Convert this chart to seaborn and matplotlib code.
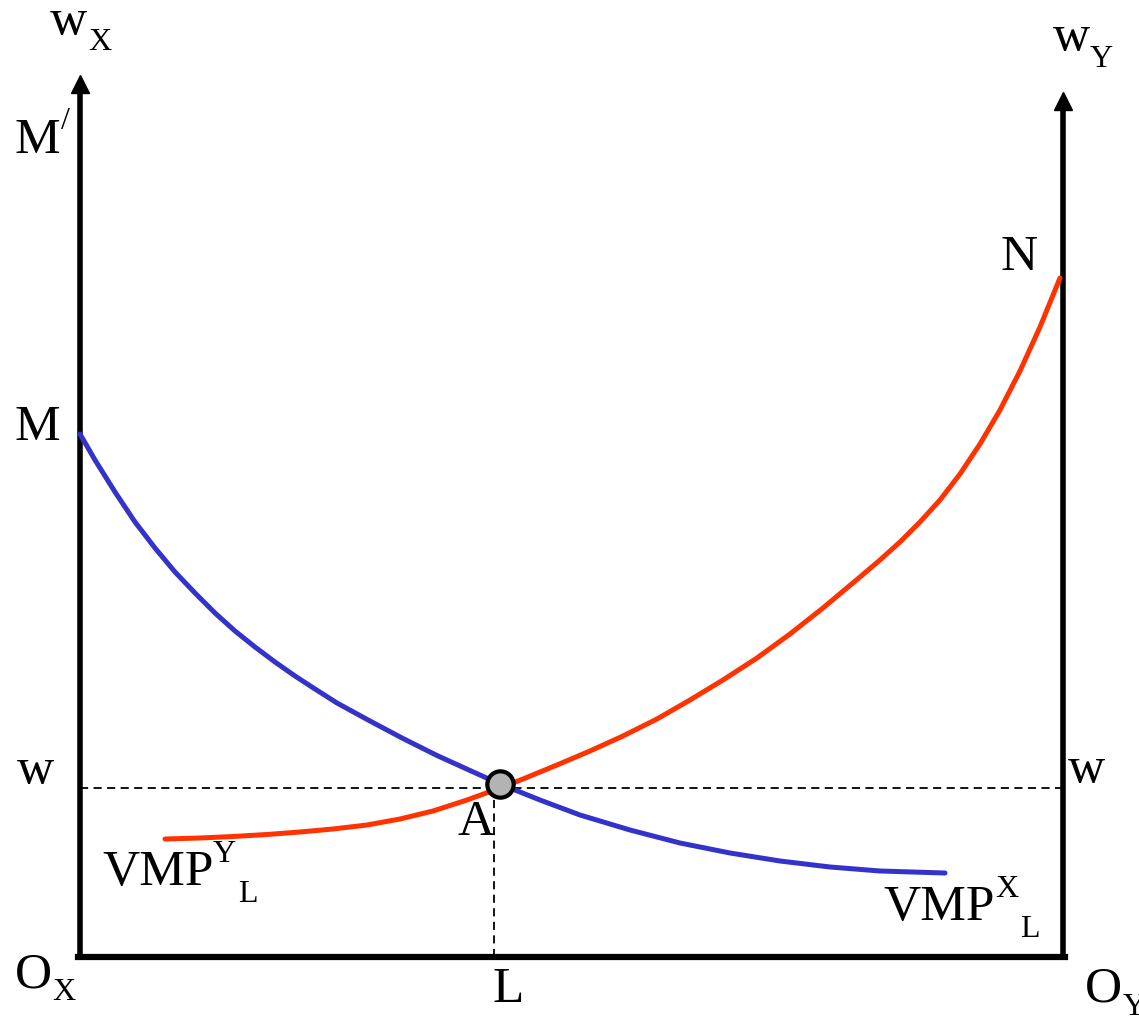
#!/usr/bin/env python3
"""Allocation of labour between sectors X and Y: VMP curves meeting at A."""

import matplotlib.pyplot as plt
import pandas as pd
import seaborn as sns

# -----------------------------------------------------------------------------
#         Data (labour measured from O_X, wages from the bottom axis)
# -----------------------------------------------------------------------------
box_width = 983          # distance O_X -> O_Y
wx_top = 882             # top of w_X axis
wy_top = 865             # top of w_Y axis

vmpx_labour = [0, 15, 35, 55, 75, 95, 115, 135, 155, 175, 195, 215, 235, 257,
               290, 323, 357, 390, 420, 460, 500, 550, 600, 650, 700, 750,
               800, 865]
vmpx_wage = [523, 497, 465, 435, 409, 385, 364, 344, 326, 310, 295, 281, 268,
             254, 236, 218.5, 201.5, 186.5, 173, 157, 142, 127, 114, 104, 96,
             90, 86, 84]

vmpy_labour = [85, 120, 153, 187, 220, 253, 287, 320, 353, 387, 420, 443, 477,
               510, 543, 577, 610, 643, 677, 710, 743, 780, 800, 820, 840,
               860, 880, 900, 920, 940, 960, 980]
vmpy_wage = [118, 119, 120.5, 122.5, 125, 128, 132, 138, 146, 157, 169, 178,
             192, 206, 221, 238, 257, 277, 299, 323, 349, 380, 397, 415, 435,
             457, 483, 513, 547, 586, 630, 679]

eq_labour, eq_wage = 420, 173
w_level = 169
l_level = 414

BLUE = '#3333CC'
RED = '#FF3300'

sns.set_style('white')
plt.rcParams['font.family'] = ['Liberation Serif', 'DejaVu Serif']

fig = plt.figure(figsize=(11.39, 10.16), dpi=100)
ax = fig.add_axes([0, 0, 1, 1])

# Axes of the box
ax.plot([0, 0], [0, wx_top - 12], color='k', lw=4, solid_capstyle='butt')
ax.plot([box_width, box_width], [0, wy_top - 12], color='k', lw=4,
        solid_capstyle='butt')
ax.plot([-2, box_width + 2], [0, 0], color='k', lw=4.5,
        solid_capstyle='projecting')
ax.plot([0], [wx_top - 9], marker='^', ms=13, color='k')
ax.plot([box_width], [wy_top - 9], marker='^', ms=13, color='k')

# Dashed guides
ax.plot([0, box_width], [w_level, w_level], color='k', lw=1.3,
        ls=(0, (4.5, 3)))
ax.plot([l_level, l_level], [0, w_level], color='k', lw=1.3,
        ls=(0, (4.5, 3)))

# VMP curves
dfx = pd.DataFrame({'L': vmpx_labour, 'w': vmpx_wage})
dfy = pd.DataFrame({'L': vmpy_labour, 'w': vmpy_wage})
sns.lineplot(ax=ax, data=dfx, x='L', y='w', sort=False, estimator=None,
             color=BLUE, lw=3.6, solid_joinstyle='round')
sns.lineplot(ax=ax, data=dfy, x='L', y='w', sort=False, estimator=None,
             color=RED, lw=3.6, solid_joinstyle='round')

# Equilibrium point
sns.scatterplot(ax=ax, x=[eq_labour], y=[eq_wage], s=360, color='#B3B3B3',
                edgecolor='k', linewidth=3, zorder=5)

ax.set_xlim(-80, 1059)
ax.set_ylim(-59, 957)
ax.set_xlabel('')
ax.set_ylabel('')
ax.axis('off')

# -----------------------------------------------------------------------------
#         Labels
# -----------------------------------------------------------------------------
big = 37
small = 23


def label(x, y, s, size=big):
    ax.text(x, y, s, fontsize=size, ha='left', va='baseline', color='k')


label(-30, 923, 'w')
label(8, 907, 'X', small)
label(973, 907, 'w')
label(1010, 890, 'Y', small)
label(-65, 804, 'M')
label(-19, 828, '/', small)
label(-65, 517, 'M')
label(920, 687, 'N')
label(-63, 174, 'w')
label(988, 175, 'w')
label(-65, -30, 'O')
label(-28, -43, 'X', small)
label(1005, -45, 'O')
label(1043, -58, 'Y', small)
label(377, 122, 'A')
label(413, -45, 'L')
label(22, 72, 'VMP')
label(133, 95, 'Y', small)
label(158, 55, 'L', small)
label(803, 37, 'VMP')
label(915, 60, 'X', small)
label(940, 20, 'L', small)

fig.savefig('out.png', dpi=100)
